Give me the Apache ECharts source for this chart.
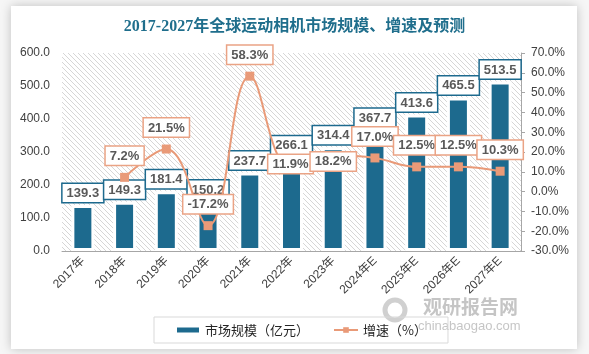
<!DOCTYPE html>
<html>
<head>
<meta charset="utf-8">
<script src="https://cdn.jsdelivr.net/npm/echarts@6/dist/echarts.min.js"></script>
<style>
  html, body { margin: 0; padding: 0; background: #fff; }
  #chart { width: 589px; height: 354px; }
</style>
</head>
<body>
<div id="chart"></div>
<script>
  var years = ['2017年', '2018年', '2019年', '2020年', '2021年', '2022年', '2023年', '2024年E', '2025年E', '2026年E', '2027年E'];
  var marketSize = [139.3, 149.3, 181.4, 150.2, 237.7, 266.1, 314.4, 367.7, 413.6, 465.5, 513.5];
  var growth = ['-', 7.2, 21.5, -17.2, 58.3, 11.9, 18.2, 17.0, 12.5, 12.5, 10.3];
  var leftTicks = [0, 600, 100];
  var rightTicks = [-30, 70, 10];

  var teal = '#1d6a8e';
  var salmon = '#e99a78';

  // hatched plot background
  function hatch() {
    var s = 5;
    var c = document.createElement('canvas');
    c.width = s; c.height = s;
    var ctx = c.getContext('2d');
    ctx.fillStyle = '#fff';
    ctx.fillRect(0, 0, s, s);
    ctx.strokeStyle = '#d6d6d6';
    ctx.lineWidth = 1;
    ctx.beginPath();
    ctx.moveTo(-1, -1); ctx.lineTo(s + 1, s + 1);
    ctx.moveTo(-1, s - 1); ctx.lineTo(1, s + 1);
    ctx.moveTo(s - 1, -1); ctx.lineTo(s + 1, 1);
    ctx.stroke();
    return c;
  }

  // a few labels were nudged by hand in the original
  var barTweak = {
    5: { offset: [0, -6] }
  };
  var lineTweak = {
    5: { position: 'inside', offset: [-1, -4] },
    6: { position: 'inside', offset: [0, 6] }
  };
  function withTweaks(arr, tweaks) {
    return arr.map(function(v, i) {
      var d = { value: v };
      if (tweaks[i]) d.label = tweaks[i];
      return d;
    });
  }

  var chart = echarts.init(document.getElementById('chart'));
  var option = {
    animation: false,
    backgroundColor: '#f6f6f6',
    textStyle: { fontFamily: 'Liberation Sans, Noto Sans CJK SC' },
    title: {
      text: '2017-2027年全球运动相机市场规模、增速及预测',
      left: 'center',
      top: 19,
      padding: 0,
      textStyle: {
        fontSize: 16,
        fontWeight: 'bold',
        color: '#1f6e8c',
        fontFamily: 'Liberation Serif, Noto Sans CJK SC'
      }
    },
    graphic: [
      {
        type: 'rect', z: -10, silent: true,
        shape: { x: 11, y: 6, width: 566, height: 343 },
        style: { fill: '#fff', shadowBlur: 10, shadowColor: 'rgba(0,0,0,0.22)' }
      },
      {
        type: 'circle', silent: true,
        shape: { cx: 395, cy: 310, r: 10 },
        style: { fill: 'none', stroke: 'rgba(150,150,150,0.45)', lineWidth: 5 }
      },
      {
        type: 'text', silent: true, left: 423, top: 297,
        style: { text: '观研报告网', fontSize: 19, fontWeight: 'bold', fill: 'rgba(140,140,140,0.5)', fontFamily: 'Noto Sans CJK SC' }
      },
      {
        type: 'text', silent: true, left: 418, top: 320,
        style: { text: 'chinabaogao.com', fontSize: 13, fill: 'rgba(150,150,150,0.55)', fontFamily: 'Liberation Sans' }
      }
    ],
    legend: {
      left: 154,
      top: 317,
      padding: [5, 21],
      itemGap: 24,
      itemWidth: 24,
      itemHeight: 7,
      borderColor: '#d9d9d9',
      borderWidth: 1,
      textStyle: { fontSize: 13, color: '#262626', lineHeight: 16, fontFamily: 'Noto Sans CJK SC' },
      data: [
        { name: '市场规模（亿元）', icon: 'rect' },
        { name: '增速（%）' }
      ]
    },
    grid: {
      left: 62,
      right: 68,
      top: 53,
      bottom: 103,
      show: true,
      borderWidth: 0,
      backgroundColor: { image: hatch(), repeat: 'repeat' }
    },
    xAxis: {
      type: 'category',
      data: years,
      axisLine: { lineStyle: { color: '#a6a6a6', width: 1 } },
      axisTick: { show: false },
      axisLabel: { rotate: 45, fontSize: 12, color: '#404040', margin: 8, interval: 0 }
    },
    yAxis: [
      {
        type: 'value',
        min: leftTicks[0], max: leftTicks[1], interval: leftTicks[2],
        axisLine: { show: false },
        axisTick: { show: false },
        splitLine: { show: false },
        axisLabel: {
          fontSize: 12, color: '#404040', margin: 12,
          formatter: function(v) { return v.toFixed(1); }
        }
      },
      {
        type: 'value',
        min: rightTicks[0], max: rightTicks[1], interval: rightTicks[2],
        axisLine: { show: true, lineStyle: { color: '#a6a6a6' } },
        axisTick: { show: true, length: 4, lineStyle: { color: '#a6a6a6' } },
        splitLine: { show: false },
        axisLabel: {
          fontSize: 12, color: '#404040', margin: 10,
          formatter: function(v) { return v.toFixed(1) + '%'; }
        }
      }
    ],
    series: [
      {
        name: '市场规模（亿元）',
        type: 'bar',
        data: withTweaks(marketSize, barTweak),
        barWidth: 23,
        itemStyle: { color: teal, borderColor: '#fff', borderWidth: 3 },
        label: {
          show: true,
          position: 'top',
          distance: 3,
          backgroundColor: '#fff',
          borderColor: teal,
          borderWidth: 1.5,
          padding: [3, 4, 2, 4],
          fontSize: 13,
          fontWeight: 'bold',
          color: '#595959',
          formatter: function(p) { return Number(p.value).toFixed(1); }
        }
      },
      {
        name: '增速（%）',
        type: 'line',
        yAxisIndex: 1,
        data: withTweaks(growth, lineTweak),
        smooth: 0.4,
        symbol: 'rect',
        symbolSize: 9,
        lineStyle: { color: salmon, width: 2 },
        itemStyle: { color: salmon },
        label: {
          show: true,
          position: 'top',
          distance: 8,
          backgroundColor: '#fff',
          borderColor: '#eaa385',
          borderWidth: 1.5,
          padding: [3, 4, 2, 4],
          fontSize: 13,
          fontWeight: 'bold',
          color: '#595959',
          formatter: function(p) { return Number(p.value).toFixed(1) + '%'; }
        }
      }
    ]
  };
  chart.setOption(option);
</script>
</body>
</html>
